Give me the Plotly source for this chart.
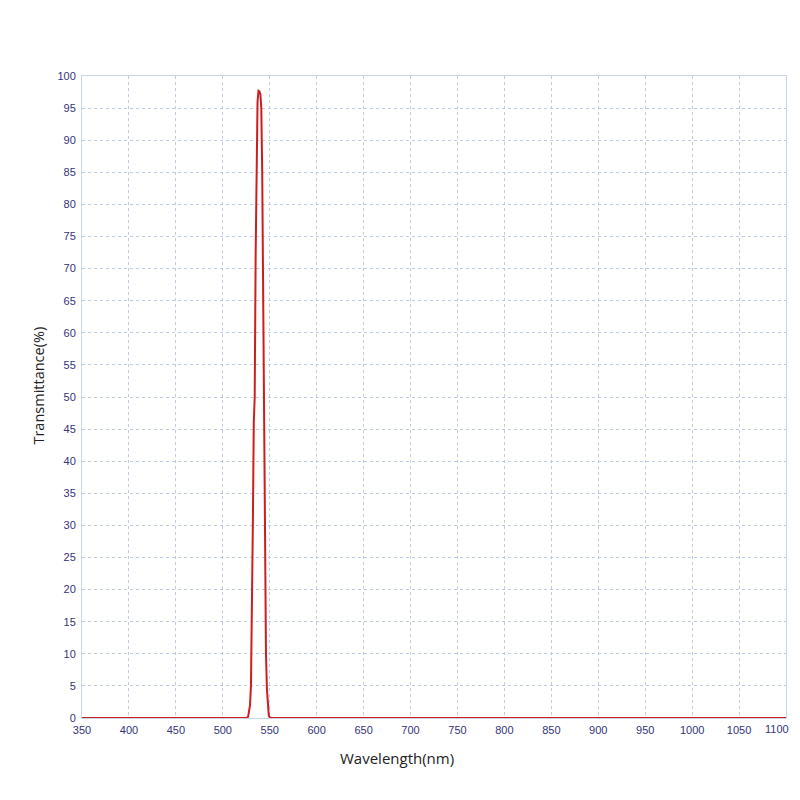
import plotly.graph_objects as go

wavelength = [350, 500, 525, 527, 529, 530, 531, 532, 533, 534, 535, 536, 537, 538, 539,
              540, 541, 542, 543, 544, 545, 546, 547, 548, 549, 550, 552, 600, 1100]
transmittance = [0, 0, 0, 0.2, 2, 5, 14, 30, 46, 50, 72, 89, 96, 97.7, 97.6,
                 97.2, 95, 85, 62, 38, 19, 10, 4.5, 1.8, 0.4, 0.1, 0, 0, 0]

x_ticks = list(range(350, 1101, 50))
y_ticks = list(range(0, 101, 5))

grid_col = "#bccde0"
tick_font = dict(family="Liberation Sans, Arial, sans-serif", size=11, color="#34347a")

OFF = 8  # page body margin
W = 800 - OFF
H = 800 - 2 * OFF  # avoid a vertical scrollbar
L, T = 81.5 - OFF, 75.7 - OFF
R = W - (786 - OFF)
B = H - (718.3 - OFF)
pw = W - L - R
ph = H - T - B


def px_to_paper(x, y):
    return (x - OFF - L) / pw, 1 - (y - OFF - T) / ph


xt, yt = px_to_paper(396.5, 758)
xy, yy = px_to_paper(37, 386)
xl, yl = px_to_paper(791, 729)

# last x tick label drawn as an annotation so it is not clipped at the page edge
x_ticktext = [str(v) for v in x_ticks]
last_label = x_ticktext[-1]
x_ticktext[-1] = ""

fig = go.Figure()
fig.add_trace(go.Scatter(x=wavelength, y=transmittance, mode="lines",
                         line=dict(color="#cc1e1e", width=2), cliponaxis=False,
                         hoverinfo="skip"))

fig.update_layout(
    width=W, height=H,
    margin=dict(l=L, r=R, t=T, b=B, autoexpand=False),
    paper_bgcolor="white", plot_bgcolor="white",
    showlegend=False,
    xaxis=dict(range=[350, 1100], tickvals=x_ticks, ticktext=x_ticktext,
               showgrid=True, gridcolor=grid_col, griddash="3px,3px", gridwidth=1,
               showline=True, linecolor="#c8d6e4", linewidth=1, mirror=True,
               zeroline=False, ticks="", tickfont=tick_font, ticklabelstandoff=2,
               ticklabeloverflow="allow", automargin=False),
    yaxis=dict(range=[0, 100], tickvals=y_ticks, ticktext=[str(v) for v in y_ticks],
               showgrid=True, gridcolor=grid_col, griddash="3px,3px", gridwidth=1,
               showline=True, linecolor="#c8d6e4", linewidth=1, mirror=True,
               zeroline=False, ticks="", tickfont=tick_font, ticklabelstandoff=3,
               ticklabeloverflow="allow", automargin=False),
    annotations=[
        dict(text=last_label, x=xl, y=yl, xref="paper", yref="paper",
             xanchor="right", yanchor="middle", showarrow=False, font=tick_font),
        dict(text="Wavelength(nm)", x=xt, y=yt,
             xref="paper", yref="paper", xanchor="center", yanchor="middle",
             showarrow=False, font=dict(family="Open Sans, sans-serif", size=15, color="#222")),
        dict(text="Transmittance(%)", x=xy, y=yy,
             xref="paper", yref="paper", xanchor="center", yanchor="middle",
             textangle=-90, showarrow=False,
             font=dict(family="Open Sans, sans-serif", size=14.5, color="#222")),
    ],
)

fig.write_html("out.html")
